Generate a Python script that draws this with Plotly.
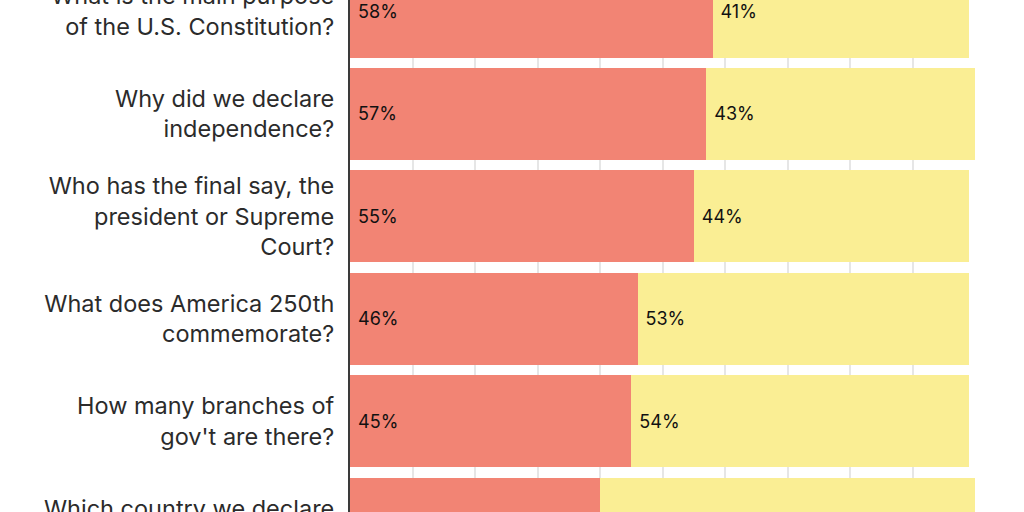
import plotly.graph_objects as go

questions = [
    "What is the main purpose<br>of the U.S. Constitution?",
    "Why did we declare<br>independence?",
    "Who has the final say, the<br>president or Supreme<br>Court?",
    "What does America 250th<br>commemorate?",
    "How many branches of<br>gov't are there?",
    "Which country we declare<br>independence from?",
]
incorrect = [58, 57, 55, 46, 45, 40]
correct = [41, 43, 44, 53, 54, 60]

positions = list(range(len(questions)))

RED = "#F28474"
YELLOW = "#FAEE94"
NBSP = "\u00a0"

fig = go.Figure()
fig.add_trace(go.Bar(
    y=positions, x=incorrect, orientation="h", name="Incorrect",
    marker=dict(color=RED, line=dict(width=0)),
    text=[f"{NBSP}{v}%" for v in incorrect],
    textposition="inside", insidetextanchor="start",
    textfont=dict(family="Inter", size=18, color="#111111"),
    hoverinfo="skip",
))
fig.add_trace(go.Bar(
    y=positions, x=correct, orientation="h", name="Correct",
    marker=dict(color=YELLOW, line=dict(width=0)),
    text=[f"{NBSP}{v}%" for v in correct],
    textposition="inside", insidetextanchor="start",
    textfont=dict(family="Inter", size=18, color="#111111"),
    hoverinfo="skip",
))

fig.update_layout(
    width=1024, height=600,
    barmode="stack", bargap=0.1,
    showlegend=False,
    paper_bgcolor="white", plot_bgcolor="white",
    margin=dict(l=350, r=49, t=0, b=0, pad=0),
    font=dict(family="Inter", color="#2b2b2b"),
    xaxis=dict(
        range=[0, 100], showgrid=True, gridcolor="#e6e6e6", gridwidth=1.5,
        dtick=10, showticklabels=False, zeroline=False, showline=False,
        fixedrange=True,
    ),
    yaxis=dict(
        range=[5.745, -0.112], autorange=False,
        tickmode="array", tickvals=positions, ticktext=questions,
        tickfont=dict(family="Inter", size=23.5, color="#2b2b2b"),
        showgrid=False, zeroline=False,
        showline=True, linecolor="#3a3a3a", linewidth=2,
        ticks="", ticklabelstandoff=9, ticklabeloverflow="allow",
        automargin=False,
    ),
)

fig.write_html("out.html")
